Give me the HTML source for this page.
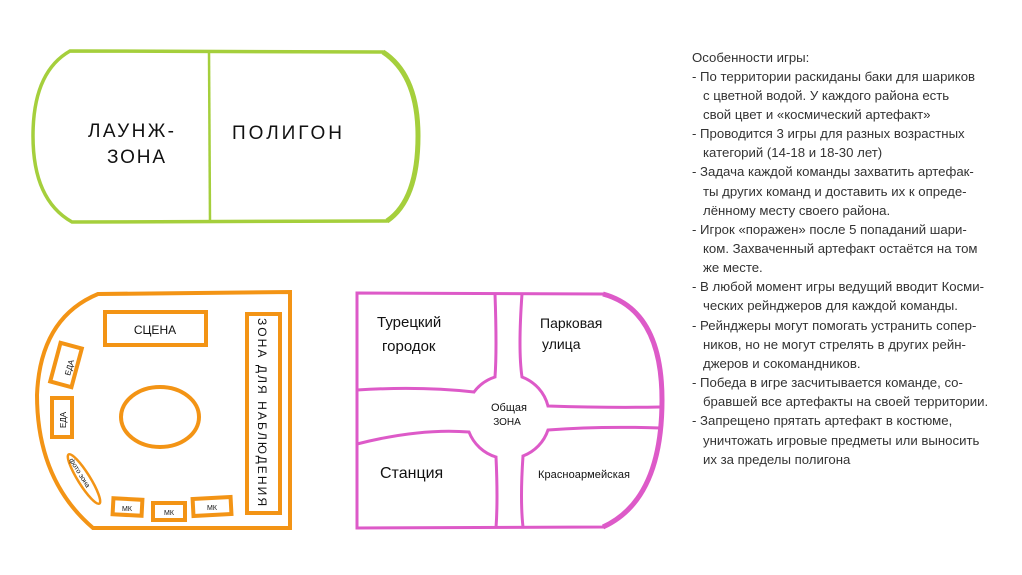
<!DOCTYPE html>
<html><head><meta charset="utf-8"><style>
html,body{margin:0;padding:0;background:#fff;}
svg{display:block;}
.h{font-family:"Liberation Sans","DejaVu Sans",sans-serif;fill:#111;}
.t{font-family:"Liberation Sans","DejaVu Sans",sans-serif;font-size:13.2px;fill:#333;}
</style></head><body>
<svg width="1022" height="575" viewBox="0 0 1022 575" xmlns="http://www.w3.org/2000/svg">
<!-- green pill -->
<path d="M70 51 L383 52 Q418 75 418 136 Q418 200 387 221 L72 222 Q33 200 33 136 Q33 72 70 51 Z" fill="none" stroke="#a5cf3c" stroke-width="3.5"/>
<path d="M387 221 Q418 200 418 136 Q418 75 383 52" fill="none" stroke="#a5cf3c" stroke-width="5"/>
<line x1="209" y1="52" x2="210" y2="222" stroke="#a5cf3c" stroke-width="2.5"/>
<text class="h" x="88" y="137" font-size="19" textLength="86">ЛАУНЖ-</text>
<text class="h" x="107" y="163" font-size="19" textLength="58">ЗОНА</text>
<text class="h" x="232" y="139" font-size="19" textLength="110">ПОЛИГОН</text>

<!-- orange -->
<g fill="none" stroke="#f39415" stroke-width="4">
<path d="M98 294 L290 292 L290 528 L93 528 Q37 480 37 395 Q40 318 98 294 Z"/>
<rect x="105" y="312" width="101" height="33"/>
<rect x="247" y="314" width="33" height="199"/>
<ellipse cx="160" cy="417" rx="39" ry="30"/>
<rect x="55" y="345" width="22" height="40" transform="rotate(15 66 365)"/>
<rect x="52" y="398" width="20" height="39"/>
<ellipse cx="84" cy="479" rx="6" ry="29" transform="rotate(-32 84 479)" stroke-width="2.5"/>
<rect x="113" y="499" width="29" height="16" transform="rotate(3 127 507)"/>
<rect x="153" y="503" width="32" height="17"/>
<rect x="193" y="498" width="38" height="17" transform="rotate(-3 212 506)"/>
</g>
<text class="h" x="155" y="334" font-size="12" text-anchor="middle">СЦЕНА</text>
<text class="h" font-size="12" transform="translate(258 318) rotate(90)" textLength="188">ЗОНА ДЛЯ НАБЛЮДЕНИЯ</text>
<text class="h" font-size="8" transform="translate(70 376) rotate(-75)">ЕДА</text>
<text class="h" font-size="8" transform="translate(66 428) rotate(-90)">ЕДА</text>
<text class="h" font-size="7" transform="translate(69 460) rotate(58)">фото зона</text>
<text class="h" x="127" y="511" font-size="7" text-anchor="middle">МК</text>
<text class="h" x="169" y="515" font-size="7" text-anchor="middle">МК</text>
<text class="h" x="212" y="510" font-size="7" text-anchor="middle">МК</text>

<!-- pink -->
<g fill="none" stroke="#dd5ac8" stroke-width="3">
<path d="M357 293 L603 294 Q662 310 662 400 Q662 500 603 527 L357 528 Z"/>
<path d="M603 294 Q662 310 662 400 Q662 500 603 527" stroke-width="5"/>
<path d="M495 294 Q497 350 495 377 A42 42 0 0 0 474 392 Q420 386 357 390"/>
<path d="M522 294 Q518 350 522 377 A42 42 0 0 1 548 406 Q610 408 660 407"/>
<path d="M357 444 Q420 428 469 432 A42 42 0 0 0 496 457 Q498 500 496 528"/>
<path d="M660 428 Q600 426 548 430 A42 42 0 0 1 523 456 Q520 500 523 527"/>
</g>
<text class="h" x="377" y="327" font-size="15">Турецкий</text>
<text class="h" x="382" y="351" font-size="15">городок</text>
<text class="h" x="540" y="328" font-size="14">Парковая</text>
<text class="h" x="542" y="349" font-size="14">улица</text>
<text class="h" x="509" y="411" font-size="11" text-anchor="middle">Общая</text>
<text class="h" x="507" y="425" font-size="10" text-anchor="middle">ЗОНА</text>
<text class="h" x="380" y="478" font-size="16">Станция</text>
<text class="h" x="538" y="478" font-size="11" textLength="92">Красноармейская</text>

<!-- text -->
<g class="t">
<text x="692" y="62">Особенности игры:</text>
<text x="692" y="81">- По территории раскиданы баки для шариков</text>
<text x="703" y="100">с цветной водой. У каждого района есть</text>
<text x="703" y="119">свой цвет и «космический артефакт»</text>
<text x="692" y="138">- Проводится 3 игры для разных возрастных</text>
<text x="703" y="157">категорий (14-18 и 18-30 лет)</text>
<text x="692" y="176">- Задача каждой команды захватить артефак-</text>
<text x="703" y="196">ты других команд и доставить их к опреде-</text>
<text x="703" y="215">лённому месту своего района.</text>
<text x="692" y="234">- Игрок «поражен» после 5 попаданий шари-</text>
<text x="703" y="253">ком. Захваченный артефакт остаётся на том</text>
<text x="703" y="272">же месте.</text>
<text x="692" y="291">- В любой момент игры ведущий вводит Косми-</text>
<text x="703" y="310">ческих рейнджеров для каждой команды.</text>
<text x="692" y="330">- Рейнджеры могут помогать устранить сопер-</text>
<text x="703" y="349">ников, но не могут стрелять в других рейн-</text>
<text x="703" y="368">джеров и сокомандников.</text>
<text x="692" y="387">- Победа в игре засчитывается команде, со-</text>
<text x="703" y="406">бравшей все артефакты на своей территории.</text>
<text x="692" y="425">- Запрещено прятать артефакт в костюме,</text>
<text x="703" y="445">уничтожать игровые предметы или выносить</text>
<text x="703" y="464">их за пределы полигона</text>
</g>
</svg>
</body></html>
